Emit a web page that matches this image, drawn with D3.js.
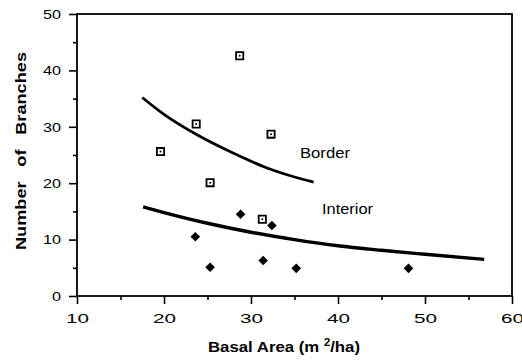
<!DOCTYPE html>
<html>
<head>
<meta charset="utf-8">
<script src="https://cdn.jsdelivr.net/npm/d3@7"></script>
<style>
  body { margin: 0; background: #fff; }
  text { font-family: "Liberation Sans", Arial, sans-serif; fill: #000; }
</style>
</head>
<body>
<script>
var width = 522;
var height = 364;

// data
var borderX = [19.6, 23.7, 28.7, 32.3, 25.3, 31.3];
var borderY = [25.6, 30.5, 42.6, 28.7, 20.1, 13.6];
var interiorX = [23.6, 25.3, 28.8, 32.4, 31.4, 35.2, 48.1];
var interiorY = [10.5, 5.1, 14.5, 12.5, 6.3, 4.9, 4.9];
var borderFitX = [17.5, 20, 24, 28, 32, 35, 37.2];
var borderFitY = [35.2, 32.2, 28.4, 25.3, 22.6, 21.1, 20.2];
var interiorFitX = [17.6, 20, 25, 30, 35, 40, 45, 50, 56.8];
var interiorFitY = [15.8, 14.8, 12.9, 11.3, 10.0, 8.9, 8.1, 7.4, 6.5];
var xTicks = [10, 20, 30, 40, 50, 60];
var xMinor = [15, 25, 35, 45, 55];
var yTicks = [0, 10, 20, 30, 40, 50];
var yMinor = [5, 15, 25, 35, 45];

var svg = d3.select('body').append('svg')
  .attr('width', width)
  .attr('height', height);

var x = d3.scaleLinear().domain([10, 60]).range([77, 512]);
var y = d3.scaleLinear().domain([0, 50]).range([296, 14]);

// frame
svg.append('rect')
  .attr('x', x(10)).attr('y', y(50))
  .attr('width', x(60) - x(10)).attr('height', y(0) - y(50))
  .attr('fill', 'none').attr('stroke', '#000').attr('stroke-width', 1.8);

function styleAxis(g){
  g.select('.domain').remove();
  g.selectAll('line').attr('stroke', '#000').attr('stroke-width', 1.6);
}

var xAxis = svg.append('g')
  .attr('transform', 'translate(0,' + y(0) + ')')
  .call(d3.axisBottom(x).tickValues(xTicks).tickSize(8).tickPadding(9));
styleAxis(xAxis);
xAxis.selectAll('text')
  .attr('font-size', 13.5)
  .attr('textLength', 23)
  .attr('lengthAdjust', 'spacingAndGlyphs');

svg.append('g')
  .attr('transform', 'translate(0,' + y(0) + ')')
  .call(d3.axisBottom(x).tickValues(xMinor).tickSize(4).tickFormat(''))
  .call(styleAxis);

var yAxis = svg.append('g')
  .attr('transform', 'translate(' + x(10) + ',0)')
  .call(d3.axisLeft(y).tickValues(yTicks).tickSize(8).tickPadding(8));
styleAxis(yAxis);
yAxis.selectAll('text')
  .attr('font-size', 13.5)
  .attr('textLength', function(d){ return d === 0 ? 9 : 18; })
  .attr('lengthAdjust', 'spacingAndGlyphs');

svg.append('g')
  .attr('transform', 'translate(' + x(10) + ',0)')
  .call(d3.axisLeft(y).tickValues(yMinor).tickSize(4).tickFormat(''))
  .call(styleAxis);

// fitted curves
var line = d3.line()
  .x(function(d){ return x(d[0]); })
  .y(function(d){ return y(d[1]); })
  .curve(d3.curveMonotoneX);

svg.append('path')
  .datum(d3.zip(borderFitX, borderFitY))
  .attr('d', line)
  .attr('fill', 'none').attr('stroke', '#000').attr('stroke-width', 2.8);

svg.append('path')
  .datum(d3.zip(interiorFitX, interiorFitY))
  .attr('d', line)
  .attr('fill', 'none').attr('stroke', '#000').attr('stroke-width', 3.4);

// border points: open squares with a dot
var bpts = svg.selectAll('.bpt')
  .data(d3.zip(borderX, borderY))
  .enter().append('g')
  .attr('class', 'bpt')
  .attr('transform', function(d){ return 'translate(' + x(d[0]) + ',' + y(d[1]) + ')'; });
bpts.append('path')
  .attr('d', d3.symbol(d3.symbolSquare, 52))
  .attr('fill', '#fff').attr('stroke', '#000').attr('stroke-width', 1.8);
bpts.append('circle').attr('r', 1).attr('fill', '#000');

// interior points: filled diamonds
svg.selectAll('.ipt')
  .data(d3.zip(interiorX, interiorY))
  .enter().append('path')
  .attr('class', 'ipt')
  .attr('d', d3.symbol(d3.symbolSquare, 46))
  .attr('transform', function(d){ return 'translate(' + x(d[0]) + ',' + y(d[1]) + ') rotate(45)'; })
  .attr('fill', '#000');

// labels
svg.append('text')
  .attr('x', 300).attr('y', 158)
  .attr('font-size', 14)
  .attr('textLength', 50).attr('lengthAdjust', 'spacingAndGlyphs')
  .text('Border');

svg.append('text')
  .attr('x', 322).attr('y', 214)
  .attr('font-size', 14)
  .attr('textLength', 51).attr('lengthAdjust', 'spacingAndGlyphs')
  .text('Interior');

var xt = svg.append('text')
  .attr('x', 208).attr('y', 352)
  .attr('font-size', 15).attr('font-weight', 'bold')
  .attr('textLength', 152).attr('lengthAdjust', 'spacingAndGlyphs');
xt.append('tspan').text('Basal Area (m ');
xt.append('tspan').attr('dy', -6).attr('font-size', 10).text('2');
xt.append('tspan').attr('dy', 6).text('/ha)');

svg.append('text')
  .attr('transform', 'translate(26,250) rotate(-90)')
  .attr('font-size', 15).attr('font-weight', 'bold')
  .attr('word-spacing', 8)
  .attr('textLength', 198).attr('lengthAdjust', 'spacingAndGlyphs')
  .text('Number of Branches');
</script>
</body>
</html>
